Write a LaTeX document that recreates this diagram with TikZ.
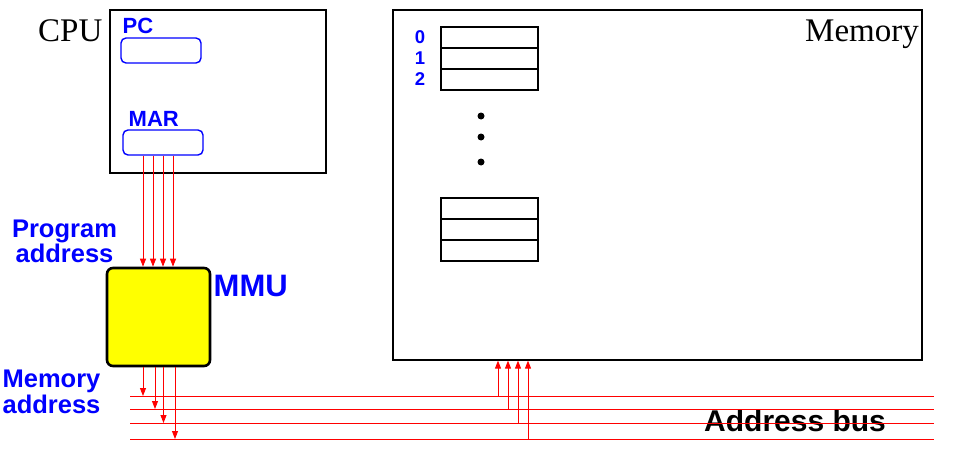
\documentclass[tikz,border=0pt]{standalone}
\usepackage{fontspec}
\setmainfont{Liberation Serif}
\newfontfamily\hvfont{Liberation Sans}
\usetikzlibrary{arrows.meta}
\definecolor{fblue}{RGB}{0,0,255}
\definecolor{fred}{RGB}{255,0,0}
\definecolor{fyellow}{RGB}{255,255,0}
\tikzset{
  box/.style={draw=black, line width=1.2pt, inner sep=0pt},
  reg/.style={draw=fblue, line width=1.4pt, rounded corners=5pt, minimum width=80pt, minimum height=25pt, inner sep=0pt},
  cell/.style={draw=black, line width=1.1pt, minimum width=97pt, minimum height=21pt, inner sep=0pt},
  bluelbl/.style={text=fblue, inner sep=0pt, font=\hvfont\bfseries\fontsize{22}{22}\selectfont},
  serif/.style={inner sep=0pt, font=\fontsize{33}{33}\selectfont},
  wire/.style={draw=fred, line width=0.9pt},
  arr/.style={wire, -{Triangle[length=8pt,width=6pt]}},
  dot/.style={circle, fill=black, minimum size=7pt, inner sep=0pt},
}
\begin{document}
\begin{tikzpicture}[x=1pt,y=-1pt]
\useasboundingbox (0,0) rectangle (957,463);
% CPU
\node[box, minimum width=216pt, minimum height=163pt] (cpu) at (218,91.5) {};
\node[serif, anchor=base west] (cpulbl) at (38,41) {CPU};
\node[reg] (pc) at (161,50.5) {};
\node[bluelbl, anchor=base west] (pclbl) at (122.5,33) {PC};
\node[reg] (mar) at (163,142.5) {};
\node[bluelbl, anchor=base west] (marlbl) at (128.5,126) {MAR};
% Memory
\node[box, minimum width=529pt, minimum height=350pt] (mem) at (657.5,185) {};
\node[serif, anchor=base east] (memlbl) at (919,41) {Memory};
\foreach \n/\y in {0/37.5,1/58.5,2/79.5} {
  \node[cell] (c\n) at (489.5,\y) {};
  \node[bluelbl, font=\hvfont\bfseries\fontsize{18.5}{18.5}\selectfont] (a\n) at (420,\y) {\n};
}
\foreach \n/\y in {3/208.5,4/229.5,5/250.5} {
  \node[cell] (c\n) at (489.5,\y) {};
}
\node[dot] (d1) at (481,116) {};
\node[dot] (d2) at (481,137) {};
\node[dot] (d3) at (481,162) {};
% MMU
\node[draw=black, fill=fyellow, line width=2.6pt, rounded corners=6pt, minimum width=103pt, minimum height=98pt, inner sep=0pt] (mmu) at (158.5,317) {};
\node[bluelbl, font=\hvfont\bfseries\fontsize{31}{31}\selectfont, anchor=base west] (mmulbl) at (213.5,296) {MMU};
\node[bluelbl, font=\hvfont\bfseries\fontsize{25.5}{20}\selectfont, align=center, anchor=base] (prog) at (64.5,262) {Program\\address};
\node[bluelbl, font=\hvfont\bfseries\fontsize{25.5}{26}\selectfont, align=center, anchor=base] (maddr) at (51.5,413) {Memory\\address};
\node[inner sep=0pt, font=\hvfont\bfseries\fontsize{30}{30}\selectfont, anchor=base west] (buslbl) at (704,431) {Address bus};
% MAR -> MMU
\foreach \dx in {-20,-10,0,10} {
  \draw[arr] ([xshift=\dx pt]mar.south) -- ([xshift=\dx pt]mar.south |- mmu.north);
}
% bus lines
\foreach \i/\y in {1/396,2/409,3/423,4/439} {
  \coordinate (bw\i) at (130,\y);
  \coordinate (be\i) at (934,\y);
  \draw[wire] (bw\i) -- (be\i);
}
% MMU -> bus
\foreach \i/\dx in {1/-15.5,2/-3.5,3/5,4/16.5} {
  \draw[arr] ([xshift=\dx pt]mmu.south) -- ([xshift=\dx pt]mmu.south |- bw\i);
}
% bus -> memory
\foreach \i/\x in {1/498,2/508,3/518,4/528} {
  \coordinate (t\i) at (\x,396);
  \draw[arr] (t\i |- bw\i) -- (t\i |- mem.south);
}
\end{tikzpicture}
\end{document}
